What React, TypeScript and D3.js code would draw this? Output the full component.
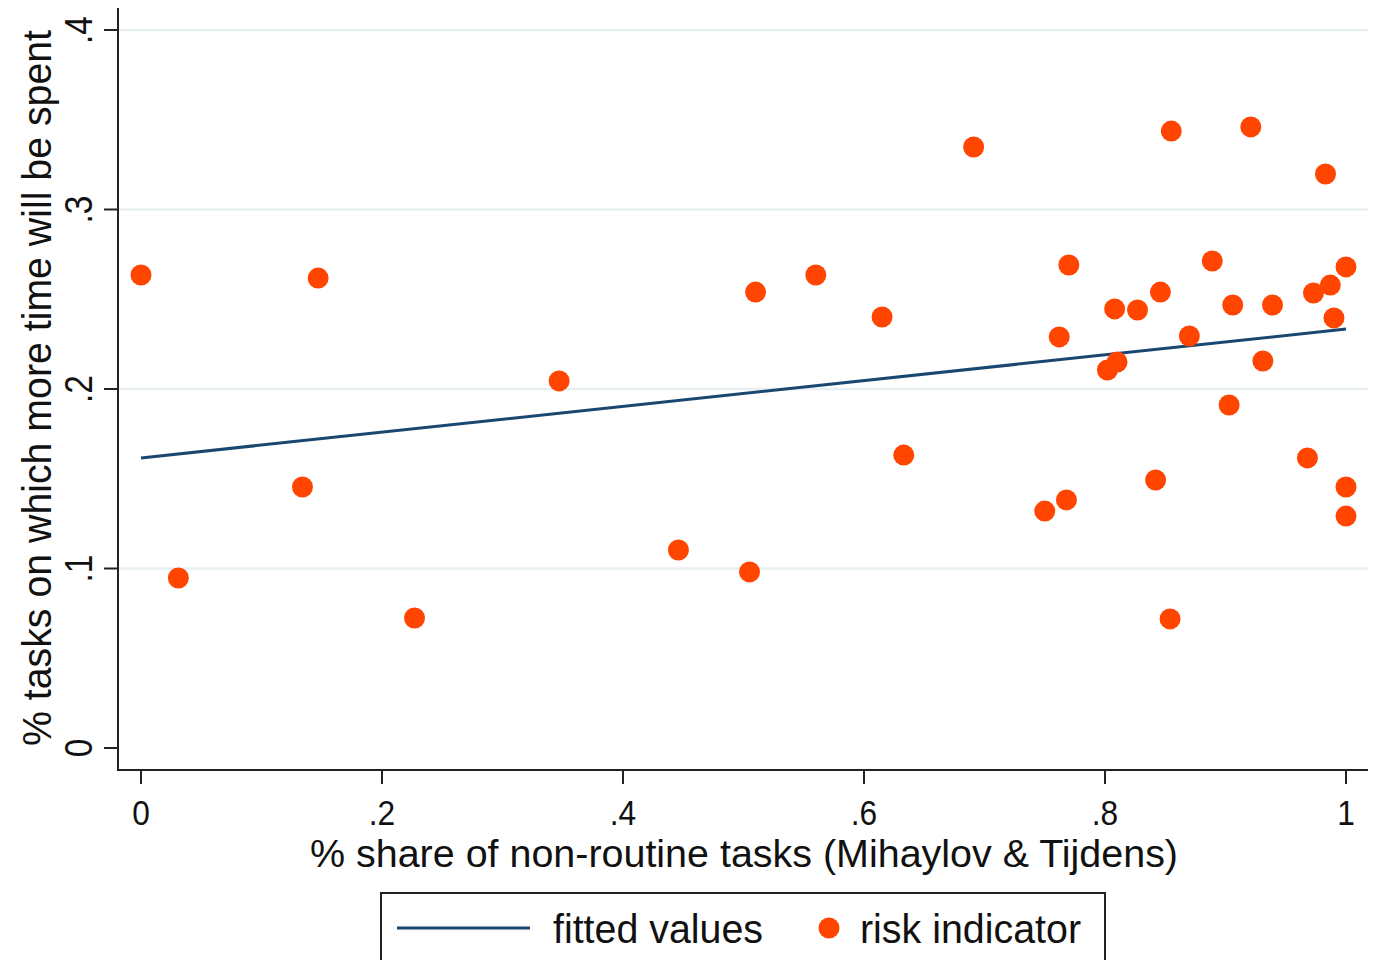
import React from "react";
import * as d3 from "d3";

// share of non-routine tasks (x) vs share of tasks with more time spent (y)
const shareNonRoutine = [
  0.0, 0.031, 0.134, 0.147, 0.227, 0.347, 0.446, 0.505, 0.510, 0.560,
  0.615, 0.633, 0.691, 0.750, 0.762, 0.768, 0.770, 0.802, 0.810, 0.808,
  0.827, 0.842, 0.846, 0.855, 0.854, 0.870, 0.889, 0.903, 0.906, 0.921,
  0.931, 0.939, 0.968, 0.973, 0.983, 0.987, 0.990, 1.0, 1.0, 1.0,
];
const riskIndicator = [
  0.2635, 0.0947, 0.1454, 0.2618, 0.0724, 0.2045, 0.1103, 0.0981, 0.254, 0.2635,
  0.2401, 0.1632, 0.3348, 0.132, 0.229, 0.1382, 0.2691, 0.2106, 0.215, 0.2446,
  0.244, 0.1493, 0.254, 0.3437, 0.0719, 0.2295, 0.2713, 0.1911, 0.2468, 0.346,
  0.2156, 0.2468, 0.1616, 0.2535, 0.3198, 0.2579, 0.2396, 0.268, 0.1454, 0.1292,
];
const fittedX = [0, 1];
const fittedY = [0.1616, 0.2334];

const xTicks = [0, 0.2, 0.4, 0.6, 0.8, 1];
const yTicks = [0, 0.1, 0.2, 0.3, 0.4];

const xTitle = "% share of non-routine tasks (Mihaylov & Tijdens)";
const yTitle = "% tasks on which more time will be spent";
const legendLabels = ["fitted values", "risk indicator"];

const W = 1381;
const H = 960;
const FONT = "'Liberation Sans', Arial, sans-serif";
const DOT = "#ff4500";
const LINE = "#1a476f";
const GRID = "#e8eff1";

const fmt = (v: number) => (v === 0 ? "0" : v === 1 ? "1" : d3.format(".1f")(v).replace(/^0\./, "."));

export default function App() {
  const x = d3.scaleLinear().domain([0, 1]).range([141, 1346]);
  const y = d3.scaleLinear().domain([0, 0.4]).range([748, 30]);
  const plotLeft = 118;
  const plotRight = 1368;
  const plotBottom = 770;
  const plotTop = 8;

  const line = d3.line<number>()
    .x((d) => x(d))
    .y((_, i) => y(fittedY[i]));

  return (
    <div style={{ position: "absolute", left: 0, top: 0 }}>
      <svg width={W} height={H} style={{ display: "block", background: "#fff" }} fontFamily={FONT}>
        {/* grid */}
        {yTicks.filter((t) => t > 0).map((t) => (
          <line key={"g" + t} x1={plotLeft} x2={plotRight} y1={y(t)} y2={y(t)} stroke={GRID} strokeWidth={2.5} />
        ))}

        {/* fitted line */}
        <path d={line(fittedX) || ""} fill="none" stroke={LINE} strokeWidth={3} />

        {/* points */}
        {shareNonRoutine.map((v, i) => (
          <circle key={i} cx={x(v)} cy={y(riskIndicator[i])} r={10.5} fill={DOT} />
        ))}

        {/* axes */}
        <line x1={plotLeft} x2={plotLeft} y1={plotTop} y2={plotBottom + 1} stroke="#222" strokeWidth={2} />
        <line x1={plotLeft - 1} x2={plotRight} y1={plotBottom} y2={plotBottom} stroke="#222" strokeWidth={2} />

        {yTicks.map((t) => (
          <g key={"y" + t}>
            <line x1={plotLeft - 14} x2={plotLeft} y1={y(t)} y2={y(t)} stroke="#222" strokeWidth={2} />
            <text
              transform={`translate(92,${y(t)}) rotate(-90) scale(0.88,1)`}
              textAnchor="middle"
              fontSize={38}
              fill="#111"
            >
              {fmt(t)}
            </text>
          </g>
        ))}

        {xTicks.map((t) => (
          <g key={"x" + t}>
            <line x1={x(t)} x2={x(t)} y1={plotBottom} y2={plotBottom + 14} stroke="#222" strokeWidth={2} />
            <text
              transform={`translate(${x(t)},825) scale(0.88,1)`}
              textAnchor="middle"
              fontSize={36}
              fill="#111"
            >
              {fmt(t)}
            </text>
          </g>
        ))}

        <text
          x={744}
          y={867}
          textAnchor="middle"
          fontSize={38}
          fill="#111"
          textLength={868}
          lengthAdjust="spacingAndGlyphs"
        >
          {xTitle}
        </text>

        <text
          transform={`translate(51,388) rotate(-90)`}
          textAnchor="middle"
          fontSize={40}
          fill="#111"
          textLength={716}
          lengthAdjust="spacingAndGlyphs"
        >
          {yTitle}
        </text>

        {/* legend */}
        <rect x={381} y={893} width={724} height={90} fill="#fff" stroke="#222" strokeWidth={2} />
        <line x1={397} x2={530} y1={928} y2={928} stroke={LINE} strokeWidth={3} />
        <text x={553} y={943} fontSize={40} fill="#111" textLength={210} lengthAdjust="spacingAndGlyphs">
          {legendLabels[0]}
        </text>
        <circle cx={829} cy={928} r={10.5} fill={DOT} />
        <text x={860} y={943} fontSize={40} fill="#111" textLength={221} lengthAdjust="spacingAndGlyphs">
          {legendLabels[1]}
        </text>
      </svg>
    </div>
  );
}
